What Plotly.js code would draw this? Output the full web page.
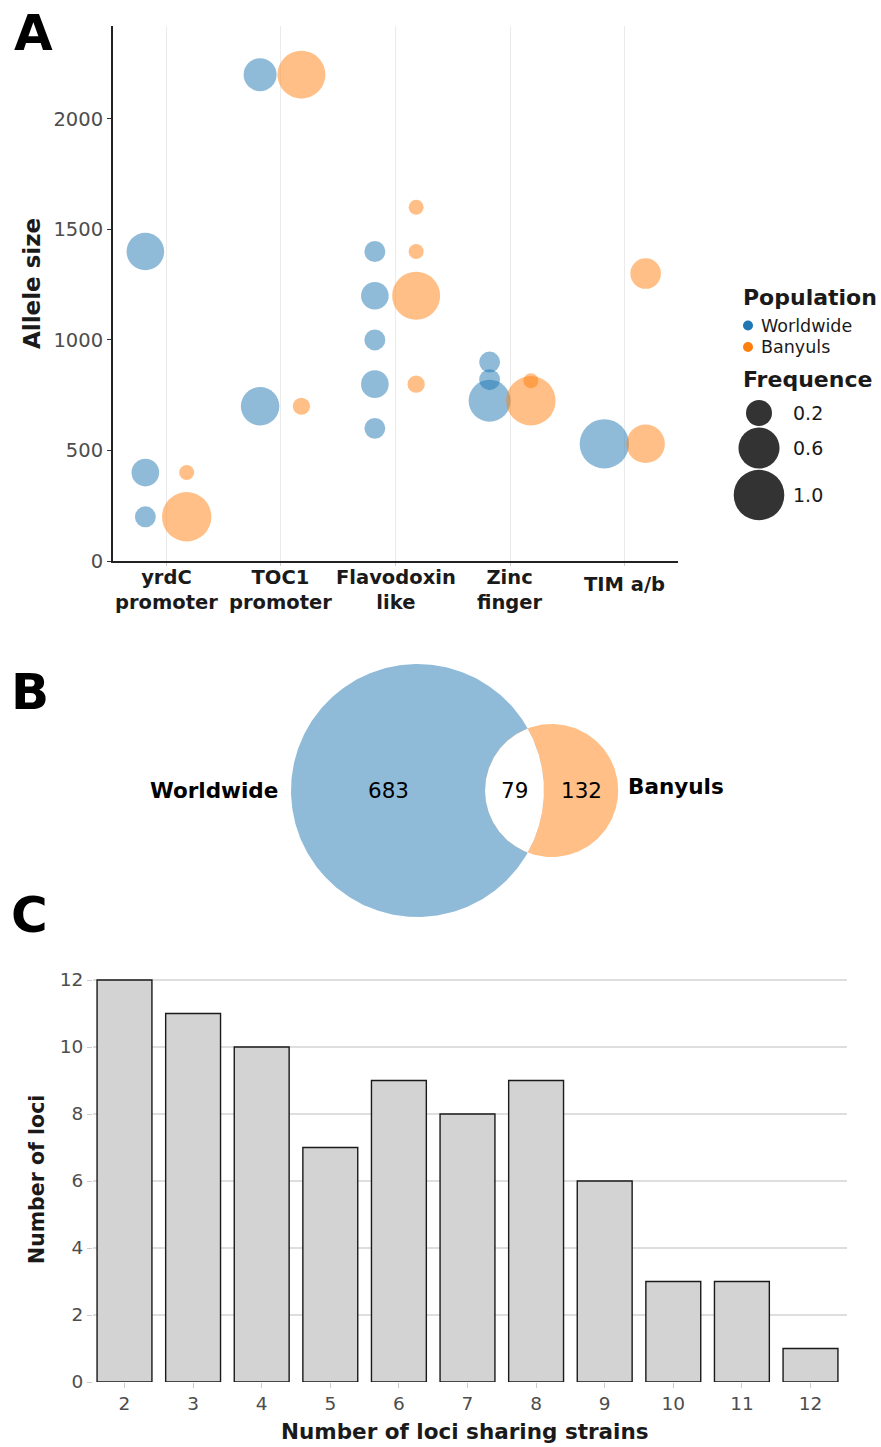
<!DOCTYPE html>
<html><head><meta charset="utf-8">
<script src="https://cdn.plot.ly/plotly-3.0.1.min.js"></script>
<style>html,body{margin:0;padding:0;background:#fff}</style>
</head><body><div id="chart" style="width:881px;height:1447px"></div>
<script>
// ---------- Panel A data ----------
const loci = ['yrdC<br>promoter','TOC1<br>promoter','Flavodoxin<br>like','Zinc<br>finger','TIM a/b'];
const wwLocus  = [0,0,0,1,1,2,2,2,2,2,3,3,3,4];
const wwAllele = [1400,400,200,2200,700,1400,1200,1000,800,600,900,820,725,530];
const wwFreq   = [0.48,0.23,0.13,0.35,0.51,0.13,0.23,0.13,0.23,0.13,0.13,0.13,0.63,0.94];
const byLocus  = [0,0,1,1,2,2,2,2,3,3,4,4];
const byAllele = [400,200,2200,700,1600,1400,1200,800,815,725,1300,530];
const byFreq   = [0.09,0.94,0.88,0.10,0.09,0.09,0.88,0.10,0.09,0.94,0.29,0.51];
const freqBreaks = [0.2,0.6,1.0];
const popNames = ['Worldwide','Banyuls'];
// ---------- Panel B data ----------
const onlyWorldwide = 683, shared = 79, onlyBanyuls = 132;
// ---------- Panel C data ----------
const sharing = [2,3,4,5,6,7,8,9,10,11,12];
const nLoci   = [12,11,10,7,9,8,9,6,3,3,1];

const W = 881, H = 1447;
const px = x => x / W, py = y => 1 - y / H;
const FONT = 'DejaVu Sans, Noto Sans, sans-serif';
const BLUE = '#1f77b4', ORANGE = '#ff7f0e';
const dodge = 0.18;
function diam(f){ return 2 * (6.3 + 19 * Math.sqrt(Math.max(0, (f - 0.0864) / 0.9136))); }

const traces = [];
traces.push({type:'scatter', mode:'markers', xaxis:'x', yaxis:'y', name:popNames[0],
  x: wwLocus.map(i => i - dodge), y: wwAllele,
  marker:{color:BLUE, opacity:0.5, size: wwFreq.map(diam), line:{width:0}}, hoverinfo:'x+y'});
traces.push({type:'scatter', mode:'markers', xaxis:'x', yaxis:'y', name:popNames[1],
  x: byLocus.map(i => i + dodge), y: byAllele,
  marker:{color:ORANGE, opacity:0.5, size: byFreq.map(diam), line:{width:0}}, hoverinfo:'x+y'});

// Legend (drawn on its own pixel-like axes)
const popY = [325.5, 347];
traces.push({type:'scatter', mode:'markers', xaxis:'x2', yaxis:'y2', showlegend:false, hoverinfo:'skip',
  x:[748,748], y:popY, marker:{color:[BLUE,ORANGE], opacity:1, size:10, line:{width:0}}});
const legY = [413,448,495];
traces.push({type:'scatter', mode:'markers', xaxis:'x2', yaxis:'y2', showlegend:false, hoverinfo:'skip',
  x: freqBreaks.map(() => 759), y: legY,
  marker:{color:'#333333', opacity:1, size: freqBreaks.map(diam), line:{width:0}}});

// ---------- Venn ----------
const nW = onlyWorldwide + shared, nB = onlyBanyuls + shared;
const R1 = Math.sqrt(nW / Math.PI), R2 = Math.sqrt(nB / Math.PI);
function lensArea(d, R, r){
  if (d >= R + r) return 0;
  if (d <= Math.abs(R - r)) return Math.PI * Math.min(R, r) ** 2;
  return r*r*Math.acos((d*d + r*r - R*R)/(2*d*r)) + R*R*Math.acos((d*d + R*R - r*r)/(2*d*R))
    - 0.5*Math.sqrt((-d + r + R)*(d + r - R)*(d - r + R)*(d + r + R));
}
let lo = R1 - R2, hi = R1 + R2;
for (let i = 0; i < 100; i++){ const m = (lo + hi)/2; if (lensArea(m, R1, R2) > shared) lo = m; else hi = m; }
const dC = (lo + hi)/2;
function circ(cx, R){ const xs=[], ys=[]; for (let i=0;i<=360;i++){ const t=i*Math.PI/180; xs.push(cx+R*Math.cos(t)); ys.push(R*Math.sin(t)); } return {xs, ys}; }
const c1 = circ(0, R1), c2 = circ(dC, R2);
traces.push({type:'scatter', mode:'lines', xaxis:'x3', yaxis:'y3', showlegend:false, hoverinfo:'skip',
  x:c1.xs, y:c1.ys, fill:'toself', fillcolor:'rgba(31,119,180,0.5)', line:{width:0, color:'rgba(0,0,0,0)'}});
traces.push({type:'scatter', mode:'lines', xaxis:'x3', yaxis:'y3', showlegend:false, hoverinfo:'skip',
  x:c2.xs, y:c2.ys, fill:'toself', fillcolor:'rgba(255,127,14,0.5)', line:{width:0, color:'rgba(0,0,0,0)'}});
// intersection lens (white)
const xi = (dC*dC + R1*R1 - R2*R2)/(2*dC), yi = Math.sqrt(R1*R1 - xi*xi);
const th1 = Math.atan2(yi, xi), th2 = Math.atan2(yi, dC - xi);
const lx = [], ly = [];
for (let i=0;i<=120;i++){ const t = -th1 + 2*th1*i/120; lx.push(R1*Math.cos(t)); ly.push(R1*Math.sin(t)); }
for (let i=0;i<=120;i++){ const t = Math.PI - th2 + 2*th2*i/120; lx.push(dC + R2*Math.cos(t)); ly.push(R2*Math.sin(t)); }
traces.push({type:'scatter', mode:'lines', xaxis:'x3', yaxis:'y3', showlegend:false, hoverinfo:'skip',
  x:lx, y:ly, fill:'toself', fillcolor:'#ffffff', line:{width:0, color:'rgba(0,0,0,0)'}});

// ---------- Bars ----------
traces.push({type:'bar', xaxis:'x4', yaxis:'y4', showlegend:false, x:sharing, y:nLoci, width:0.8,
  marker:{color:'#d3d3d3', line:{color:'#1a1a1a', width:1.4}}});

// Venn pixel mapping
const s = 126.5 / R1; // px per unit
const vcx = 417.5, vcy = 790.5;
const vx0 = 100, vx1 = 800, vy0 = 650, vy1 = 930;

const annotations = [];
const lab = (t, x, y, o) => annotations.push(Object.assign({text:t, x:px(x), y:py(y), xref:'paper', yref:'paper',
  xanchor:'center', yanchor:'middle', showarrow:false}, o));
// Panel letters
lab('A', 12, 33, {xanchor:'left', font:{family:FONT, size:50, color:'#000', weight:'bold'}});
lab('B', 9, 692, {xanchor:'left', font:{family:FONT, size:50, color:'#000', weight:'bold'}});
lab('C', 9, 915, {xanchor:'left', font:{family:FONT, size:50, color:'#000', weight:'bold'}});
// Panel A titles / category labels / legend text
lab('Allele size', 32, 284, {textangle:-90, font:{family:FONT, size:23, color:'#1a1a1a', weight:'bold'}});
loci.forEach((t, i) => annotations.push({text:t, x:i, xref:'x', y:py(t.includes('<br>') ? 590 : 584), yref:'paper',
  xanchor:'center', yanchor:'middle', showarrow:false, font:{family:FONT, size:19.5, color:'#1a1a1a', weight:'bold'}}));
lab('Population', 741, 297, {xanchor:'left', font:{family:FONT, size:22, color:'#1a1a1a', weight:'bold'}});
popNames.forEach((n, i) => lab(n, 759, popY[i], {xanchor:'left', font:{family:FONT, size:17.5, color:'#1a1a1a'}}));
lab('Frequence', 741, 380, {xanchor:'left', font:{family:FONT, size:22, color:'#1a1a1a', weight:'bold'}});
freqBreaks.forEach((b, i) => lab(b.toFixed(1), 791, legY[i], {xanchor:'left', font:{family:FONT, size:19, color:'#1a1a1a'}}));
// Panel C titles
lab('Number of loci', 37, 1180, {textangle:-90, font:{family:FONT, size:20.5, color:'#1a1a1a', weight:'bold'}});
lab('Number of loci sharing strains', 465, 1431, {font:{family:FONT, size:21.5, color:'#1a1a1a', weight:'bold'}});
// Venn labels
const va = (t, x, o) => annotations.push(Object.assign({text:t, x:x, y:0, xref:'x3', yref:'y3', showarrow:false,
  font:{family:FONT, size:21.5, color:'#000'}}, o));
va(String(onlyWorldwide), (-R1 + (dC - R2))/2, {});
va(String(shared), ((dC - R2) + R1)/2, {});
va(String(onlyBanyuls), (R1 + dC + R2)/2, {});
va(popNames[0], -R1, {xanchor:'right', xshift:-11, font:{family:FONT, size:21.5, color:'#000', weight:'bold'}});
va(popNames[1], dC + R2, {xanchor:'left', xshift:8, yshift:4, font:{family:FONT, size:21.5, color:'#000', weight:'bold'}});

// C x-range from pixel geometry
const cLeft = 93, cRight = 847, c2px = 124.5, step = 68.6;
const layout = {
  width:W, height:H, autosize:false, margin:{l:0,r:0,t:0,b:0}, showlegend:false,
  paper_bgcolor:'#fff', plot_bgcolor:'rgba(0,0,0,0)', font:{family:FONT},
  xaxis:{domain:[px(113), px(678)], range:[-0.462, 4.462], anchor:'y', tickvals:[0,1,2,3,4], showticklabels:false,
    showgrid:true, gridcolor:'#ebebeb', gridwidth:1, zeroline:false, showline:true, linecolor:'#222', linewidth:2,
    ticks:'outside', ticklen:3, tickcolor:'#cccccc', fixedrange:true},
  yaxis:{domain:[py(561), py(26)], range:[0, 2420], anchor:'x', tickvals:[0,500,1000,1500,2000], showgrid:false, zeroline:false,
    showline:true, linecolor:'#222', linewidth:2, ticks:'outside', ticklen:4, tickcolor:'#333',
    tickfont:{family:FONT, size:19.5, color:'#4d4d4d'}},
  xaxis2:{domain:[px(700), px(881)], range:[700, 881], anchor:'y2', visible:false, fixedrange:true},
  yaxis2:{domain:[py(530), py(280)], range:[530, 280], anchor:'x2', visible:false, fixedrange:true},
  xaxis3:{domain:[px(vx0), px(vx1)], range:[(vx0 - vcx)/s, (vx1 - vcx)/s], anchor:'y3', visible:false},
  yaxis3:{domain:[py(vy1), py(vy0)], range:[-(vy1 - vcy)/s, (vcy - vy0)/s], anchor:'x3', visible:false},
  xaxis4:{domain:[px(cLeft), px(cRight)], range:[2 + (cLeft - c2px)/step, 2 + (cRight - c2px)/step], anchor:'y4',
    tickvals:sharing, showgrid:false, zeroline:false, showline:false, ticks:'outside', ticklen:5, tickcolor:'#cccccc',
    tickfont:{family:FONT, size:18.5, color:'#4d4d4d'}},
  yaxis4:{domain:[py(1382), py(977)], range:[0, 12.09], anchor:'x4', tickvals:[0,2,4,6,8,10,12], showgrid:true, gridcolor:'#dedede',
    gridwidth:1.6, zeroline:false, showline:false, ticks:'outside', ticklen:5, tickcolor:'#cccccc',
    tickfont:{family:FONT, size:18.5, color:'#4d4d4d'}},
  annotations: annotations
};
Plotly.newPlot('chart', traces, layout, {displayModeBar:false, staticPlot:true});
</script></body></html>
